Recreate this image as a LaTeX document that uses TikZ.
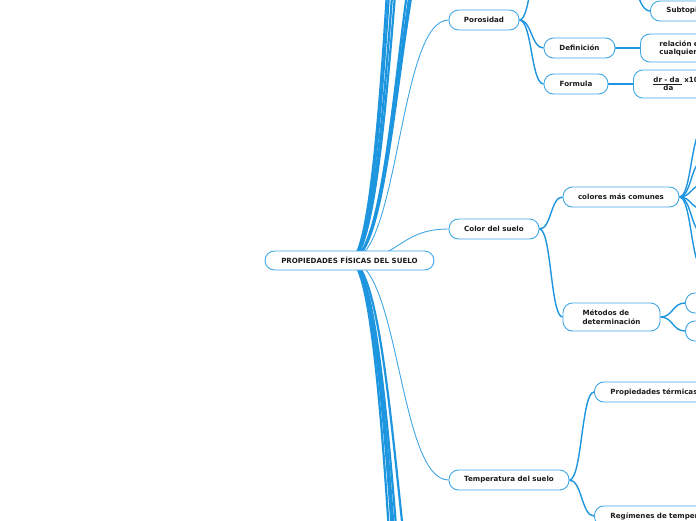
\documentclass[tikz,border=0pt]{standalone}
\usepackage{fontspec}
\setmainfont{DejaVu Sans}
\usetikzlibrary{backgrounds}
\definecolor{edgeblue}{HTML}{1E95DF}
\definecolor{boxblue}{HTML}{3FA6E6}
\definecolor{txt}{HTML}{1C1C1C}
\tikzset{
  box/.style={draw=boxblue, line width=0.9pt, fill=white, rounded corners=9.5pt,
    font=\fontsize{7.1}{8.6}\selectfont\bfseries, text=txt, inner sep=0pt, align=center},
  cutbox/.style={box, anchor=west, minimum height=#1, align=left, text width=120pt, inner ysep=0pt},
  rootline/.style={draw=edgeblue!85, line width=0.9pt},
  trunk/.style={draw=edgeblue, line width=2.2pt},
  branch/.style={draw=edgeblue, line width=1.4pt},
}
\begin{document}
\begin{tikzpicture}[x=1pt,y=-1pt]
\useasboundingbox (0,0) rectangle (696,520);
\clip (0,0) rectangle (696,520);
% nodes
\node[box, minimum width=169pt, minimum height=19pt] (root) at (349.5,260.5) {PROPIEDADES FÍSICAS DEL SUELO};
\node[box, minimum width=70pt, minimum height=20pt] (por) at (484,20) {Porosidad};
\node[box, minimum width=71pt, minimum height=20pt] (defi) at (579.5,48) {Definición};
\node[box, minimum width=64pt, minimum height=20pt] (form) at (576,84) {Formula};
\node[box, minimum width=90pt, minimum height=20pt] (color) at (494,229) {Color del suelo};
\node[box, minimum width=116pt, minimum height=20pt] (colores) at (621,197) {colores más comunes};
\node[box, minimum width=97pt, minimum height=28pt, align=left] (met) at (611.5,317) {Métodos de\\determinación};
\node[box, minimum width=120pt, minimum height=20pt] (temp) at (509,480) {Temperatura del suelo};
\node[cutbox=20pt, inner xsep=16pt] (sub) at (650,11) {Subtopi};
\node[cutbox=28pt, inner xsep=19pt] (rel) at (640,48) {relación e\\[-0.8pt]cualquier};
\node[cutbox=28pt, inner xsep=20pt] (dr) at (633,84) {\underline{dr - da\ } x10\\[-0.8pt]\hspace*{10pt}da};
\node[cutbox=20pt, inner xsep=16pt] (prop) at (594,392) {Propiedades térmicas};
\node[cutbox=20pt, inner xsep=16pt] (reg) at (594,516) {Regímenes de temperatura};
\node[cutbox=20pt, inner xsep=16pt] (m1) at (685,303) {};
\node[cutbox=20pt, inner xsep=16pt] (m2) at (685,331) {};
% off-screen ends
\foreach \n/\y in {u1/-740,u2/-620,u3/-480,u4/-380,u5/-150,u6/-120,u7/-102,
                   d1/1160,d2/1020,d3/950,d4/870,d5/730}
  \coordinate (\n) at (449,\y);
\coordinate (pc) at (544,-60);
\coordinate (pce) at (615,-60);
\foreach \n/\y in {c1/130,c2/161,c3/185,c4/209,c5/233,c6/268}
  \coordinate (\n) at (703,\y);
\begin{pgfonlayer}{background}
  \foreach \n in {u1,u2,u3,u4,u5,u6,u7,d1,d2,d3,d4,d5}
    \draw[trunk] (root.center) .. controls +(50,0) and +(-50,0) .. (\n);
  \foreach \n in {por,color,temp}
    \draw[rootline] (root.center) .. controls +(50,0) and +(-50,0) .. (\n.west);
  \draw[branch] (por.east) .. controls +(12.5,0) and +(-12.5,0) .. (pc);
  \draw[branch] (por.east) .. controls +(12.5,0) and +(-12.5,0) .. (defi.west);
  \draw[branch] (por.east) .. controls +(12.5,0) and +(-12.5,0) .. (form.west);
  \draw[branch] (pce) .. controls +(17.5,0) and +(-17.5,0) .. (sub.west);
  \draw[branch] (defi.east) -- (rel.west);
  \draw[branch] (form.east) -- (dr.west);
  \draw[branch] (color.east) .. controls +(12,0) and +(-12,0) .. (colores.west);
  \draw[branch] (color.east) .. controls +(12,0) and +(-12,0) .. (met.west);
  \foreach \n in {c1,c2,c3,c4,c5,c6}
    \draw[branch] (colores.east) .. controls +(12,0) and +(-12,0) .. (\n);
  \draw[branch] (met.east) .. controls +(12.5,0) and +(-12.5,0) .. (m1.west);
  \draw[branch] (met.east) .. controls +(12.5,0) and +(-12.5,0) .. (m2.west);
  \draw[branch] (temp.east) .. controls +(12.5,0) and +(-12.5,0) .. (prop.west);
  \draw[branch] (temp.east) .. controls +(12.5,0) and +(-12.5,0) .. (reg.west);
\end{pgfonlayer}
\end{tikzpicture}
\end{document}
